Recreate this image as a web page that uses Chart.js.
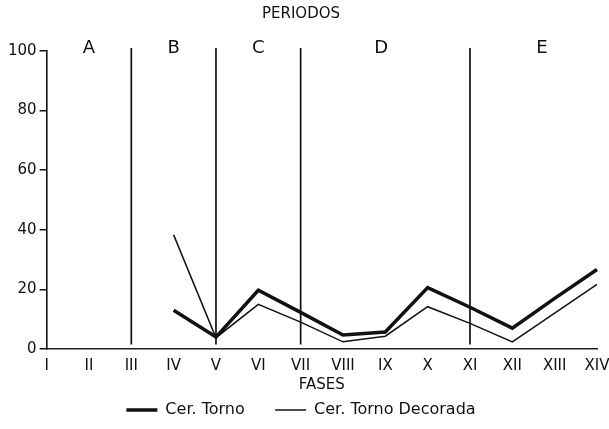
<!DOCTYPE html>
<html>
<head>
<meta charset="utf-8">
<script src="https://cdn.jsdelivr.net/npm/chart.js@4"></script>
<style>
  html, body { margin: 0; padding: 0; background: #fff; }
  #wrap { width: 609px; height: 429px; }
</style>
</head>
<body>
<div id="wrap"><canvas id="grafico"></canvas></div>
<script>
// fases (eje x) y valores
var fases = ["I", "II", "III", "IV", "V", "VI", "VII", "VIII", "IX", "X", "XI", "XII", "XIII", "XIV"];
var torno = [null, null, null, 13, 4, 19.7, 12.3, 4.7, 5.7, 20.6, 14, 7, 17, 26.7];
var tornoDecorada = [null, null, null, 38.3, 3.8, 15, 9, 2.4, 4.3, 14.2, 8.6, 2.4, 12, 21.7];
var yTicks = [0, 20, 40, 60, 80, 100];

// periodos: letra, posicion (en fases) y limites entre periodos
var periodos = ["A", "B", "C", "D", "E"];
var periodoPos = [1, 3, 5, 7.9, 11.7];
var limites = ["III", "V", "VII", "XI"];

var fuente = '"DejaVu Sans", "Liberation Sans", sans-serif';

var periodosPlugin = {
	id: "periodos",
	beforeDatasetsDraw: function(chart){
		var ctx = chart.ctx, x = chart.scales.x, y = chart.scales.y;
		ctx.save();
		ctx.strokeStyle = "#111";
		ctx.lineWidth = 1.7;
		for(var i = 0; i < limites.length; i++){
			var px = x.getPixelForValue(fases.indexOf(limites[i]));
			ctx.beginPath();
			ctx.moveTo(px, y.getPixelForValue(101));
			ctx.lineTo(px, y.getPixelForValue(1.5));
			ctx.stroke();
		}
		ctx.fillStyle = "#111";
		ctx.font = "18px " + fuente;
		ctx.textAlign = "center";
		ctx.textBaseline = "alphabetic";
		for(var j = 0; j < periodos.length; j++){
			ctx.fillText(periodos[j], x.getPixelForValue(periodoPos[j]), y.getPixelForValue(100) + 2);
		}
		ctx.restore();
	}
};

var ctx = document.getElementById("grafico").getContext("2d");
Chart.defaults.font.family = fuente;
Chart.defaults.color = "#111";

var config = {
	type: "line",
	data: {
		labels: fases,
		datasets: [{
			// espacios al final para separar las dos entradas de la leyenda
			label: "Cer. Torno    ",
			data: torno,
			borderColor: "#111",
			backgroundColor: "#111",
			borderWidth: 3.5,
			pointRadius: 0,
			pointStyle: "line",
			tension: 0
		}, {
			label: "Cer. Torno Decorada",
			data: tornoDecorada,
			borderColor: "#111",
			backgroundColor: "#111",
			borderWidth: 1.5,
			pointRadius: 0,
			pointStyle: "line",
			tension: 0
		}]
	},
	options: {
		responsive: true,
		maintainAspectRatio: false,
		animation: false,
		layout: { padding: { left: 5, right: 12, top: 0, bottom: 1 } },
		plugins: {
			title: {
				display: true,
				text: "PERIODOS",
				font: { size: 15, weight: "normal" },
				color: "#111",
				padding: { top: 5, bottom: 28 }
			},
			legend: {
				position: "bottom",
				labels: {
					usePointStyle: true,
					pointStyleWidth: 31,
					boxHeight: 12,
					padding: 10,
					font: { size: 16, lineHeight: 1 },
					color: "#111"
				}
			},
			tooltip: { enabled: false }
		},
		scales: {
			x: {
				offset: false,
				afterFit: function(scale){
					scale.paddingLeft = 0;
					scale.paddingRight = 0;
				},
				grid: { display: false, drawTicks: false },
				border: { display: true, color: "#222", width: 1.6 },
				ticks: { padding: 10, font: { size: 15, lineHeight: 1 }, maxRotation: 0, autoSkip: false },
				title: { display: true, text: "FASES", font: { size: 15, lineHeight: 1 }, padding: { top: -6, bottom: -1 } }
			},
			y: {
				min: 0,
				max: 100,
				afterBuildTicks: function(axis){
					axis.ticks = yTicks.map(function(v){ return { value: v }; });
				},
				grid: { drawOnChartArea: false, drawTicks: true, tickLength: 7, color: "#111", lineWidth: 1.5 },
				border: { display: true, color: "#111", width: 1.6 },
				ticks: { padding: 3, font: { size: 15 } }
			}
		}
	},
	plugins: [periodosPlugin]
};

var grafico = new Chart(ctx, config);
</script>
</body>
</html>
